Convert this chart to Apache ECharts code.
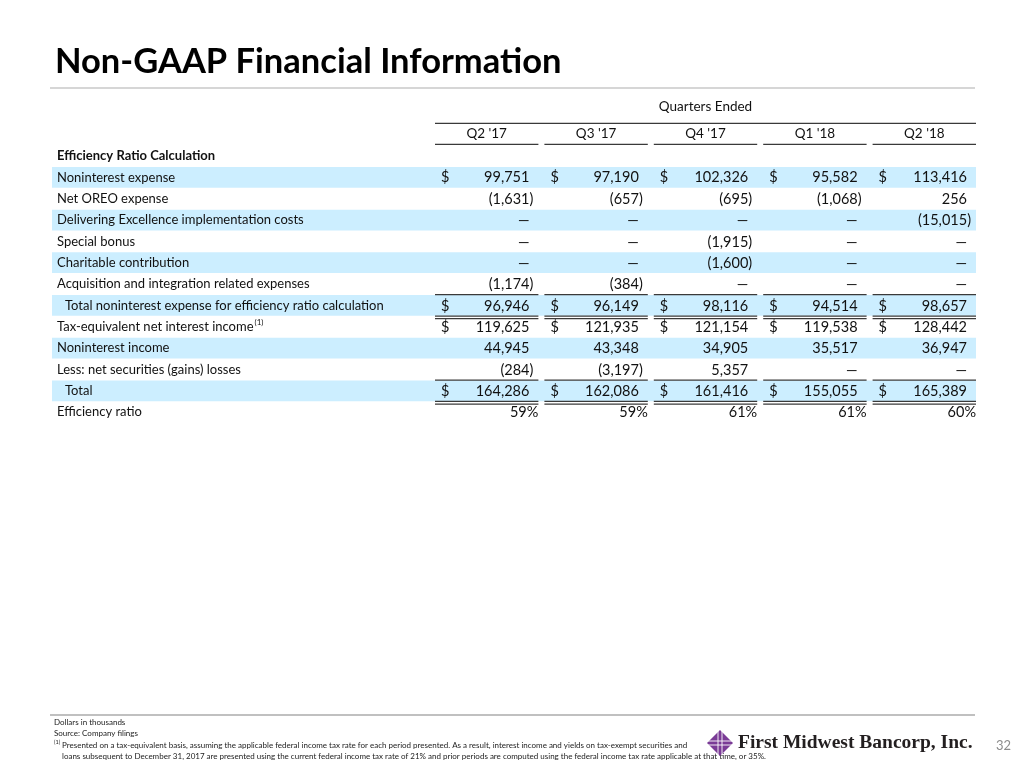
<!DOCTYPE html>
<html><head><meta charset="utf-8">
<script src="https://cdn.jsdelivr.net/npm/echarts@6/dist/echarts.min.js"></script>
<style>html,body{margin:0;padding:0;background:#fff}#c{width:1024px;height:768px}</style>
</head><body><div id="c"></div>
<script>
const quarters = ["Q2 '17", "Q3 '17", "Q4 '17", "Q1 '18", "Q2 '18"];
const rowLabels = [
  "Efficiency Ratio Calculation",
  "Noninterest expense",
  "Net OREO expense",
  "Delivering Excellence implementation costs",
  "Special bonus",
  "Charitable contribution",
  "Acquisition and integration related expenses",
  "Total noninterest expense for efficiency ratio calculation",
  "Tax-equivalent net interest income",
  "Noninterest income",
  "Less: net securities (gains) losses",
  "Total",
  "Efficiency ratio"
];
const noninterestExpense = [99751, 97190, 102326, 95582, 113416];
const netOreoExpense = [-1631, -657, -695, -1068, 256];
const deliveringExcellence = [null, null, null, null, -15015];
const specialBonus = [null, null, -1915, null, null];
const charitableContribution = [null, null, -1600, null, null];
const acquisitionCosts = [-1174, -384, null, null, null];
const totalNoninterestExpense = [96946, 96149, 98116, 94514, 98657];
const taxEquivNetInterestIncome = [119625, 121935, 121154, 119538, 128442];
const noninterestIncome = [44945, 43348, 34905, 35517, 36947];
const netSecuritiesGainsLosses = [-284, -3197, 5357, null, null];
const totalRevenue = [164286, 162086, 161416, 155055, 165389];
const efficiencyRatio = [59, 59, 61, 61, 60];

const rowValues = [null, noninterestExpense, netOreoExpense, deliveringExcellence, specialBonus,
  charitableContribution, acquisitionCosts, totalNoninterestExpense, taxEquivNetInterestIncome,
  noninterestIncome, netSecuritiesGainsLosses, totalRevenue, efficiencyRatio];
const dollarRows = [1, 7, 8, 11];
const shadedRows = [1, 3, 5, 7, 9, 11];
const percentRows = [12];
const indentRows = [7, 11];
const footnoteRows = [8];
const ruleAboveRows = [7, 11];
const doubleBelowRows = [7, 11];

const FONT = 'Lato';
const FS = 13;
const NFS = 14.5;
const TXT = '#111';
const LINE = '#3a3a3a';
const BAND = '#CCEEFF';

function fmt(v, pct) {
  if (v === null || v === undefined) return '\u2014';
  if (pct) return v + '%';
  const s = Math.abs(v).toLocaleString('en-US');
  return v < 0 ? '(' + s + ')' : s;
}

const chart = echarts.init(document.getElementById('c'), null, {renderer: 'canvas'});

const bandData = rowLabels.map((_, r) => [0, r]);
const cellData = [];
rowValues.forEach((arr, r) => { if (arr) arr.forEach((_, c) => cellData.push([c, r])); });
const headData = quarters.map((_, c) => [c, 0]);

chart.setOption({
  animation: false,
  textStyle: {fontFamily: FONT},
  grid: {left: 432, right: 45, top: 145.3, height: 277.5},
  xAxis: {
    type: 'category', data: quarters, position: 'top',
    axisLine: {show: false}, axisTick: {show: false}, splitLine: {show: false},
    axisLabel: {margin: 5, fontSize: 13.5, color: TXT, fontFamily: FONT},
    name: 'Quarters Ended', nameLocation: 'middle', nameGap: 32,
    nameTextStyle: {fontSize: 13.5, color: TXT, fontFamily: FONT}
  },
  yAxis: {
    type: 'category', data: rowLabels, inverse: true, z: 10,
    axisLine: {show: false}, axisTick: {show: false}, splitLine: {show: false},
    axisLabel: {
      align: 'left', margin: 375, fontSize: FS, color: TXT, fontFamily: FONT,
      formatter: function (val, idx) {
        if (idx === 0) return '{b|' + val + '}';
        if (indentRows.indexOf(idx) >= 0) return '{i|' + val + '}';
        if (footnoteRows.indexOf(idx) >= 0) return val + '{sup|(1)}';
        return val;
      },
      rich: {
        b: {fontWeight: 'bold', fontSize: FS, color: TXT, fontFamily: FONT},
        i: {padding: [0, 0, 0, 8], fontSize: FS, color: TXT, fontFamily: FONT},
        sup: {fontSize: 8, padding: [0, 0, 9, 1], color: TXT, fontFamily: FONT}
      }
    }
  },
  series: [
    {
      type: 'custom', name: 'bands', data: bandData, clip: false, z: 1,
      encode: {x: 0, y: 1},
      renderItem: function (params, api) {
        const r = api.value(1);
        const cs = params.coordSys;
        const pt = api.coord([0, r]);
        const h = api.size([0, 1])[1];
        const children = [];
        if (shadedRows.indexOf(r) >= 0) {
          children.push({type: 'rect', shape: {x: cs.x - 380, y: pt[1] - h / 2 + 0.3, width: cs.width + 380 - 3, height: h - 0.6},
            style: {fill: BAND}});
        }
        if (r === 0) {
          const top = pt[1] - h / 2;
          children.push({type: 'line', shape: {x1: cs.x + 3, y1: top - 22, x2: cs.x + cs.width - 3, y2: top - 22},
            style: {stroke: LINE, lineWidth: 1.2}});
        }
        return {type: 'group', children: children};
      }
    },
    {
      type: 'custom', name: 'headerRules', data: headData, clip: false, z: 3,
      encode: {x: 0, y: 1},
      renderItem: function (params, api) {
        const c = api.value(0);
        const pt = api.coord([c, 0]);
        const bw = api.size([1, 0])[0];
        const h = api.size([0, 1])[1];
        const y = pt[1] - h / 2 - 1;
        return {type: 'line', shape: {x1: pt[0] - bw / 2 + 3, y1: y, x2: pt[0] + bw / 2 - 3, y2: y},
          style: {stroke: LINE, lineWidth: 1.2}};
      }
    },
    {
      type: 'custom', name: 'cells', data: cellData, clip: false, z: 4,
      encode: {x: 0, y: 1},
      renderItem: function (params, api) {
        const c = api.value(0), r = api.value(1);
        const v = rowValues[r][c];
        const pt = api.coord([c, r]);
        const bw = api.size([1, 0])[0];
        const h = api.size([0, 1])[1];
        const left = pt[0] - bw / 2 + 3, right = pt[0] + bw / 2 - 3;
        const top = pt[1] - h / 2, bottom = pt[1] + h / 2;
        const pct = percentRows.indexOf(r) >= 0;
        let rx;
        if (pct) rx = right;
        else if (v !== null && v < 0) rx = right - 5;
        else rx = right - 9;
        const children = [];
        const ts = {fontFamily: FONT, fontSize: NFS, fill: TXT, verticalAlign: 'middle'};
        children.push({type: 'text', x: rx, y: pt[1] + 0.5, style: Object.assign({text: fmt(v, pct), align: 'right'}, ts)});
        if (dollarRows.indexOf(r) >= 0) {
          children.push({type: 'text', x: left + 6, y: pt[1] + 0.5, style: Object.assign({text: '$', align: 'left'}, ts)});
        }
        if (ruleAboveRows.indexOf(r) >= 0) {
          children.push({type: 'line', shape: {x1: left, y1: top, x2: right, y2: top}, style: {stroke: LINE, lineWidth: 1.2}});
        }
        if (doubleBelowRows.indexOf(r) >= 0) {
          children.push({type: 'line', shape: {x1: left, y1: bottom, x2: right, y2: bottom}, style: {stroke: LINE, lineWidth: 1.3}});
          children.push({type: 'line', shape: {x1: left, y1: bottom + 2.6, x2: right, y2: bottom + 2.6}, style: {stroke: LINE, lineWidth: 1.3}});
        }
        return {type: 'group', children: children};
      }
    }
  ],
  graphic: [
    {type: 'text', left: 55, top: 44, style: {text: 'Non-GAAP Financial Information', fontFamily: FONT, fontWeight: 'bold', fontSize: 34.5, fill: '#000'}},
    {type: 'line', shape: {x1: 50, y1: 88, x2: 975, y2: 88}, style: {stroke: '#c8c8c8', lineWidth: 1.5}},
    {type: 'line', shape: {x1: 50, y1: 715, x2: 975, y2: 715}, style: {stroke: '#c0c0c0', lineWidth: 2}},
    {type: 'text', left: 54, top: 718, style: {text: 'Dollars in thousands', fontFamily: FONT, fontSize: 8, fill: '#222'}},
    {type: 'text', left: 54, top: 729.5, style: {text: 'Source: Company filings', fontFamily: FONT, fontSize: 8, fill: '#222'}},
    {type: 'text', left: 54, top: 739, style: {text: '(1)', fontFamily: FONT, fontSize: 5.5, fill: '#222'}},
    {type: 'text', left: 62, top: 741, style: {text: 'Presented on a tax-equivalent basis, assuming the applicable federal income tax rate for each period presented. As a result, interest income and yields on tax-exempt securities and', fontFamily: FONT, fontSize: 8, fill: '#222'}},
    {type: 'text', left: 62, top: 752.5, style: {text: 'loans subsequent to December 31, 2017 are presented using the current federal income tax rate of 21% and prior periods are computed using the federal income tax rate applicable at that time, or 35%.', fontFamily: FONT, fontSize: 8, fill: '#222'}},
    {type: 'polygon', shape: {points: [[720, 730], [733, 743], [720, 756], [707, 743]]}, style: {fill: '#7a3b96'}},
    {type: 'line', shape: {x1: 718, y1: 731, x2: 718, y2: 755}, style: {stroke: '#fff', lineWidth: 0.9}},
    {type: 'line', shape: {x1: 722, y1: 731, x2: 722, y2: 755}, style: {stroke: '#fff', lineWidth: 0.9}},
    {type: 'line', shape: {x1: 708, y1: 741, x2: 732, y2: 741}, style: {stroke: '#fff', lineWidth: 0.9}},
    {type: 'line', shape: {x1: 708, y1: 745, x2: 732, y2: 745}, style: {stroke: '#fff', lineWidth: 0.9}},
    {type: 'text', left: 738, top: 732.5, style: {text: 'First Midwest Bancorp, Inc.', fontFamily: 'Liberation Serif', fontWeight: 'bold', fontSize: 19.5, fill: '#231f20'}},
    {type: 'text', left: 996, top: 739, style: {text: '32', fontFamily: FONT, fontSize: 13, fill: '#8c8c8c'}}
  ]
});
</script>
</body></html>
